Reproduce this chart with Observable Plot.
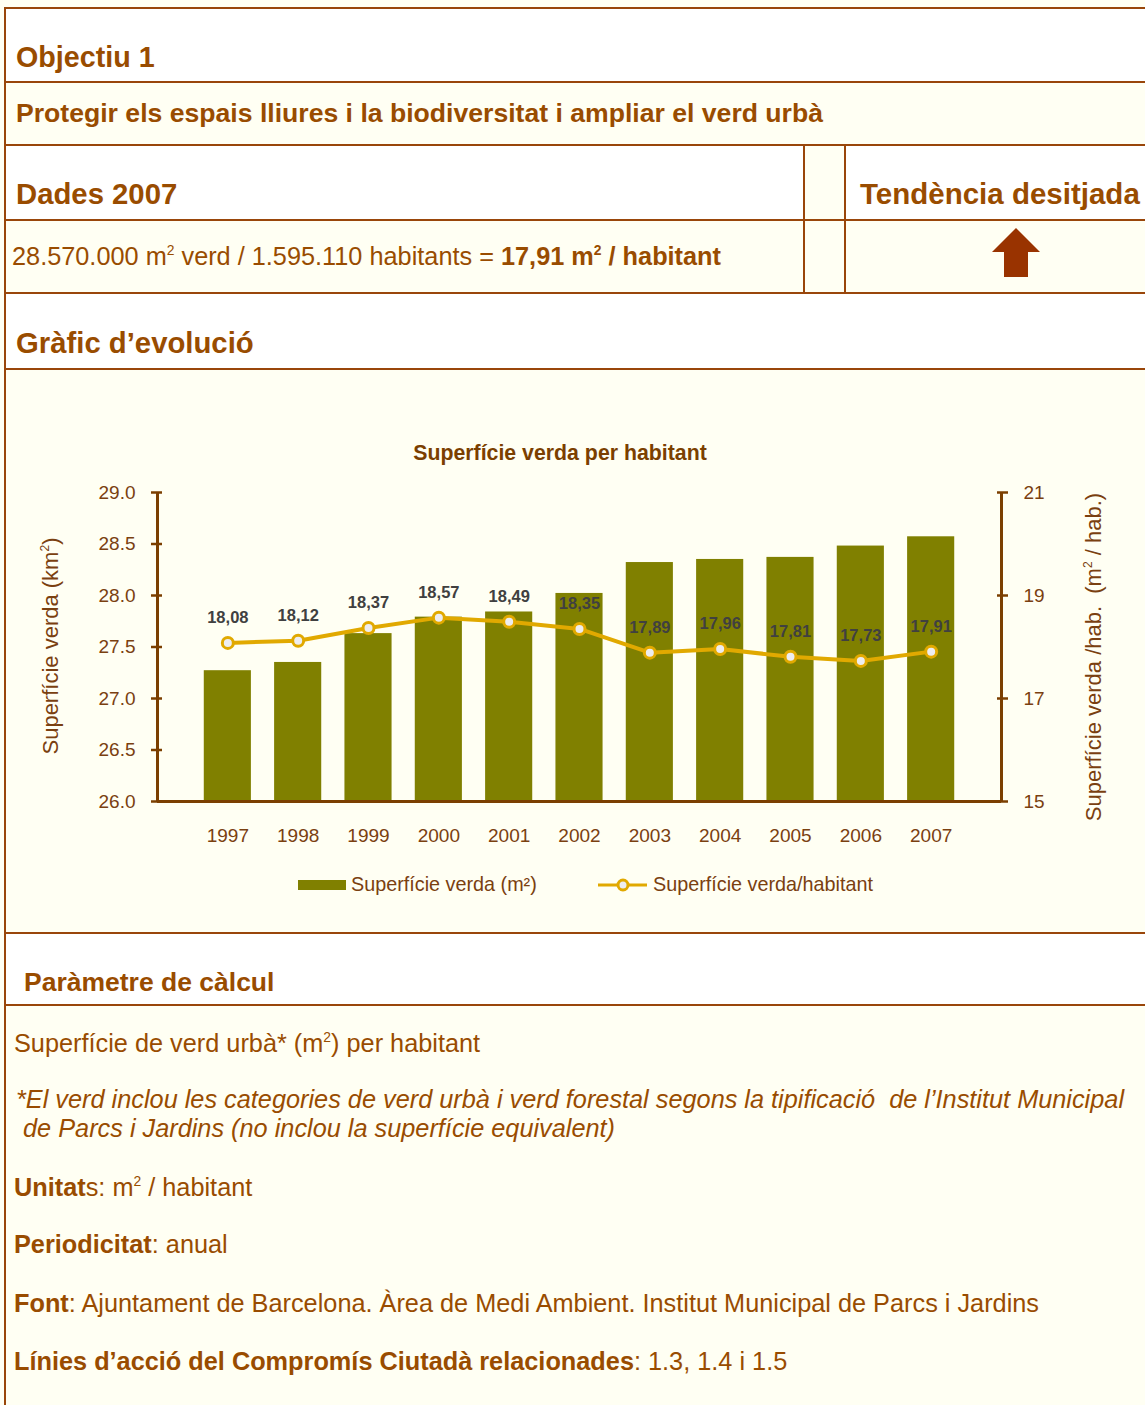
<!DOCTYPE html>
<html>
<head>
<meta charset="utf-8">
<script src="https://cdn.jsdelivr.net/npm/d3@7"></script>
<script src="https://cdn.jsdelivr.net/npm/@observablehq/plot@0.6"></script>
<style>
  html, body { margin: 0; padding: 0; background: #FFFFF3; }
  #page { position: relative; width: 1145px; height: 1405px; overflow: hidden; background: #FFFFF3;
          font-family: "Liberation Sans", Arial, sans-serif; color: #994C00; }
  .row { position: absolute; left: 4px; right: -20px; border-top: 2px solid #99460A; border-left: 2px solid #99460A; box-sizing: border-box; }
  .t { position: absolute; line-height: 1; white-space: nowrap; }
  .b { font-weight: bold; }
  sup { font-size: 0.55em; vertical-align: 0.72em; line-height: 0; }
  .vl { position: absolute; width: 2px; background: #99460A; }
  #chart { position: absolute; left: 0; top: 370px; }
  .rot { position: absolute; transform: translate(-50%, -50%) rotate(-90deg); white-space: pre; line-height: 1; font-size: 22px; color: #7A4010; }
</style>
</head>
<body>
<div id="page">
  <div class="row" style="top:7px;height:76px;background:#FFFFFF"></div>
  <div class="row" style="top:81px;height:65px;background:#FFFFF3"></div>
  <div class="row" style="top:144px;height:77px;background:#FFFFFF"></div>
  <div class="row" style="top:219px;height:75px;background:#FFFFF3"></div>
  <div class="row" style="top:292px;height:78px;background:#FFFFFF"></div>
  <div class="row" style="top:368px;height:566px;background:#FFFFF3"></div>
  <div class="row" style="top:932px;height:74px;background:#FFFFFF"></div>
  <div class="row" style="top:1004px;height:420px;background:#FFFFF3"></div>
  <div style="position:absolute;left:805px;top:146px;width:39px;height:73px;background:#FFFFF3"></div>
  <div class="vl" style="left:803px;top:144px;height:150px"></div>
  <div class="vl" style="left:844px;top:144px;height:150px"></div>

  <div class="t b" style="left:16px;top:43px;font-size:28.7px">Objectiu 1</div>
  <div class="t b" style="left:16px;top:100px;font-size:26.6px">Protegir els espais lliures i la biodiversitat i ampliar el verd urbà</div>
  <div class="t b" style="left:16px;top:179px;font-size:29.3px">Dades 2007</div>
  <div class="t b" style="left:860px;top:179px;font-size:29.5px">Tendència desitjada</div>
  <div class="t" style="left:12px;top:244px;font-size:25.3px">28.570.000 m<sup>2</sup> verd / 1.595.110 habitants = <span class="b">17,91 m<sup>2</sup> / habitant</span></div>
  <svg style="position:absolute;left:990px;top:226px" width="52" height="54">
    <polygon points="26,2 50,26 38,26 38,51 14,51 14,26 2,26" fill="#993300"/>
  </svg>
  <div class="t b" style="left:16px;top:328px;font-size:29.3px">Gràfic d’evolució</div>

  <div class="t b" style="left:0;width:1120px;text-align:center;top:443px;font-size:21.3px;color:#7B3F00">Superfície verda per habitant</div>

  <div id="chart"></div>

  <div class="rot" style="left:51px;top:646px">Superfície verda (km<sup>2</sup>)</div>
  <div class="rot" style="left:1094px;top:657px">Superfície verda /hab.  (m<sup>2</sup> / hab.)</div>

  <div style="position:absolute;left:298px;top:880px;width:48px;height:10px;background:#808000"></div>
  <div class="t" style="left:351px;top:875px;font-size:19.8px;color:#7A4010">Superfície verda (m²)</div>
  <svg style="position:absolute;left:596px;top:876px" width="54" height="18">
    <line x1="2" y1="9" x2="51" y2="9" stroke="#E1A900" stroke-width="3"/>
    <circle cx="27" cy="9" r="5" fill="#EDEDF0" stroke="#E1A900" stroke-width="3"/>
  </svg>
  <div class="t" style="left:653px;top:875px;font-size:19.8px;color:#7A4010">Superfície verda/habitant</div>

  <div class="t b" style="left:24px;top:969px;font-size:26.5px">Paràmetre de càlcul</div>
  <div class="t" style="left:14px;top:1031px;font-size:25.3px">Superfície de verd urbà* (m<sup>2</sup>) per habitant</div>
  <div class="t" style="left:16px;top:1085px;font-size:25.3px;line-height:29px;font-style:italic">*El verd inclou les categories de verd urbà i verd forestal segons la tipificació&nbsp; de l’Institut Municipal<br>&nbsp;de Parcs i Jardins (no inclou la superfície equivalent)</div>
  <div class="t" style="left:14px;top:1175px;font-size:25.3px"><span class="b">Unitat</span>s: m<sup>2</sup> / habitant</div>
  <div class="t" style="left:14px;top:1232px;font-size:25.3px"><span class="b">Periodicitat</span>: anual</div>
  <div class="t" style="left:14px;top:1291px;font-size:25.3px"><span class="b">Font</span>: Ajuntament de Barcelona. Àrea de Medi Ambient. Institut Municipal de Parcs i Jardins</div>
  <div class="t" style="left:14px;top:1349px;font-size:25.3px"><span class="b">Línies d’acció del Compromís Ciutadà relacionades</span>: 1.3, 1.4 i 1.5</div>
</div>

<script>
// ---- Data ----
const years = [1997, 1998, 1999, 2000, 2001, 2002, 2003, 2004, 2005, 2006, 2007];
const superficieKm2 = [27.27, 27.35, 27.63, 27.79, 27.84, 28.02, 28.32, 28.35, 28.37, 28.48, 28.57];
const m2PerHabitant = [18.08, 18.12, 18.37, 18.57, 18.49, 18.35, 17.89, 17.96, 17.81, 17.73, 17.91];
const leftTicks = [26.0, 26.5, 27.0, 27.5, 28.0, 28.5, 29.0];
const rightTicks = [15, 17, 19, 21];
const leftDomain = [26, 29];
const rightDomain = [15, 21];
const xDomain = [1996, 2008];

// ---- Styles ----
const axisColor = "#7B3F00";
const textColor = "#7A4010";
const olive = "#808000";
const gold = "#E1A900";

const data = years.map((year, i) => ({year, area: superficieKm2[i], hab: m2PerHabitant[i]}));
const toLeft = d3.scaleLinear().domain(rightDomain).range(leftDomain);
const fmtComma = d3.formatLocale({decimal: ",", thousands: ".", grouping: [3], currency: ["", "€"]}).format(".2f");
const barHalf = 0.335;

const chart = Plot.plot({
  width: 1145,
  height: 562,
  marginTop: 122,
  marginBottom: 131,
  marginLeft: 157,
  marginRight: 144,
  style: {background: "transparent", fontFamily: "'Liberation Sans', Arial, sans-serif", fontSize: "19px", color: textColor, overflow: "visible"},
  x: {type: "linear", domain: xDomain, axis: null},
  y: {domain: leftDomain, axis: null},
  marks: [
    Plot.rect(data, {x1: d => d.year - barHalf, x2: d => d.year + barHalf, y1: leftDomain[0], y2: "area", fill: olive}),
    Plot.ruleY([leftDomain[0]], {stroke: axisColor, strokeWidth: 3}),
    Plot.ruleX([xDomain[0]], {stroke: axisColor, strokeWidth: 3}),
    Plot.ruleX([xDomain[1]], {stroke: axisColor, strokeWidth: 3}),
    Plot.axisY(leftTicks, {anchor: "left", tickSize: 11, dx: 5, fill: "none", stroke: axisColor, strokeWidth: 2.5, label: null}),
    Plot.axisY(leftTicks, {anchor: "left", tickSize: 0, tickPadding: 22, tickFormat: d3.format(".1f"), fill: textColor, fontSize: 19, label: null}),
    Plot.axisY(rightTicks.map(toLeft), {anchor: "right", tickSize: 11, dx: -5, fill: "none", stroke: axisColor, strokeWidth: 2.5, label: null}),
    Plot.axisY(rightTicks.map(toLeft), {anchor: "right", tickSize: 0, tickPadding: 22, tickFormat: d => String(Math.round(toLeft.invert(d))), fill: textColor, fontSize: 19, label: null}),
    Plot.axisX(years, {anchor: "bottom", tickSize: 0, tickPadding: 27, tickFormat: d => String(d), fill: textColor, fontSize: 19, label: null}),
    Plot.line(data, {x: "year", y: d => toLeft(d.hab), stroke: gold, strokeWidth: 4}),
    Plot.dot(data, {x: "year", y: d => toLeft(d.hab), r: 5.5, fill: "#EDEDF0", stroke: gold, strokeWidth: 3}),
    Plot.text(data, {x: "year", y: d => toLeft(d.hab), text: d => fmtComma(d.hab), dy: -25, fontSize: 16.5, fontWeight: "bold", fill: "#404040"})
  ]
});
document.getElementById("chart").appendChild(chart);
</script>
</body>
</html>
